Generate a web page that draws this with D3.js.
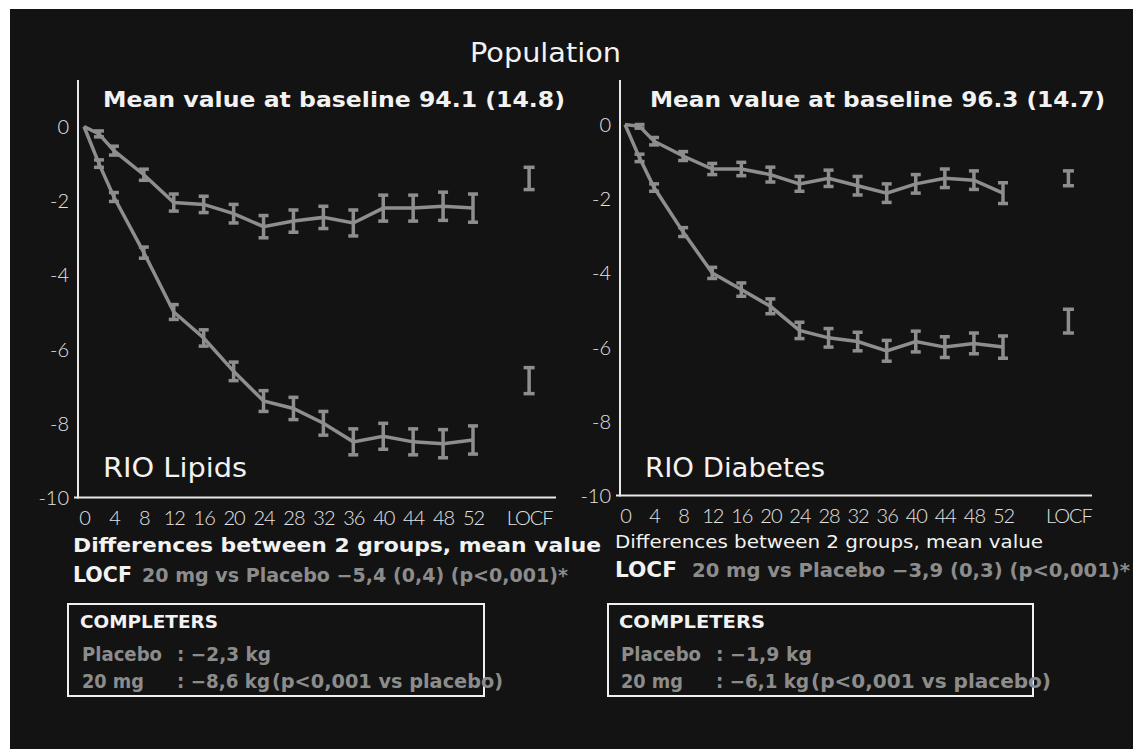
<!DOCTYPE html>
<head>
	<meta charset="utf-8">
	<title>Population - weight change</title>
	<script src="https://d3js.org/d3.v7.min.js"></script>
	<style>
		body { margin: 0; background: #fff; }
		svg { display: block; }
		.tick text { fill: #e4e4e4; font-family: Lato, "DejaVu Sans", sans-serif; font-weight: 300; }
		.spine { stroke: #e8e8e8; stroke-width: 2px; }
		.series { fill: none; stroke: #8e8e8e; stroke-width: 3.5px; }
		.err { stroke: #8e8e8e; stroke-width: 3.5px; }
		.white { fill: #f2f2f2; font-family: "DejaVu Sans", Verdana, sans-serif; }
		.grey { fill: #8c8c8c; font-family: "DejaVu Sans", Verdana, sans-serif; font-weight: bold; }
	</style>
</head>
<body>
<div id="viz"></div>
<script>
// weeks of follow-up, the LOCF column is added by the axis
var weeks = [0, 2, 4, 8, 12, 16, 20, 24, 28, 32, 36, 40, 44, 48, 52];
var weekTicks = [0, 4, 8, 12, 16, 20, 24, 28, 32, 36, 40, 44, 48, 52];
var yTicks = [0, -2, -4, -6, -8, -10];

// RIO Lipids, change in weight (kg)
var lipidsPlacebo = [0, -0.2, -0.65, -1.3, -2.05, -2.1, -2.35, -2.7, -2.55, -2.45, -2.6, -2.2, -2.2, -2.15, -2.2];
var lipidsPlaceboErr = [0, 0.08, 0.12, 0.15, 0.23, 0.22, 0.25, 0.3, 0.3, 0.3, 0.35, 0.35, 0.35, 0.38, 0.38];
var lipids20mg = [0, -1.0, -1.9, -3.4, -5.0, -5.7, -6.6, -7.4, -7.6, -8.0, -8.5, -8.35, -8.5, -8.55, -8.45];
var lipids20mgErr = [0, 0.1, 0.12, 0.15, 0.2, 0.22, 0.25, 0.28, 0.3, 0.32, 0.35, 0.35, 0.35, 0.38, 0.38];
var lipidsLocf = [-1.4, -6.85];
var lipidsLocfErr = [0.3, 0.35];

// RIO Diabetes
var diabetesPlacebo = [0, -0.05, -0.45, -0.85, -1.2, -1.2, -1.35, -1.6, -1.45, -1.65, -1.85, -1.6, -1.45, -1.5, -1.85];
var diabetesPlaceboErr = [0, 0.05, 0.1, 0.12, 0.15, 0.18, 0.2, 0.2, 0.22, 0.25, 0.25, 0.25, 0.25, 0.25, 0.28];
var diabetes20mg = [0, -0.9, -1.7, -2.9, -4.0, -4.45, -4.9, -5.55, -5.75, -5.85, -6.1, -5.85, -6.0, -5.9, -6.0];
var diabetes20mgErr = [0, 0.1, 0.1, 0.12, 0.15, 0.18, 0.2, 0.22, 0.25, 0.25, 0.28, 0.28, 0.28, 0.28, 0.3];
var diabetesLocf = [-1.45, -5.3];
var diabetesLocfErr = [0.2, 0.32];

var panels = [
	{ name: "RIO Lipids", baseline: "Mean value at baseline 94.1 (14.8)",
	  placebo: lipidsPlacebo, placeboErr: lipidsPlaceboErr, drug: lipids20mg, drugErr: lipids20mgErr,
	  locf: lipidsLocf, locfErr: lipidsLocfErr,
	  axisX: 78, x0: 84, x52: 473, locfAt: 59.5, xEnd: 556, y0: 126.5, y10: 497.5,
	  baseX: 103, baseW: 462, nameW: 144 },
	{ name: "RIO Diabetes", baseline: "Mean value at baseline 96.3 (14.7)",
	  placebo: diabetesPlacebo, placeboErr: diabetesPlaceboErr, drug: diabetes20mg, drugErr: diabetes20mgErr,
	  locf: diabetesLocf, locfErr: diabetesLocfErr,
	  axisX: 620, x0: 625, x52: 1003, locfAt: 61, xEnd: 1092, y0: 124.5, y10: 495.5,
	  baseX: 650, baseW: 455, nameW: 180 }
];

var W = 1133, H = 749;
var svg = d3.select("#viz").append("svg").attr("width", W).attr("height", H);

// dark slide, white margin top-left
svg.append("rect").attr("x", 10).attr("y", 9).attr("width", W - 10).attr("height", H - 9).attr("fill", "#131313");

svg.append("text").attr("class", "white").attr("x", 470).attr("y", 62)
	.attr("font-size", 27).attr("textLength", 151).attr("lengthAdjust", "spacingAndGlyphs")
	.text("Population");

panels.forEach(function(p) {
	var x = d3.scaleLinear().domain([0, 52]).range([p.x0, p.x52]);
	var y = d3.scaleLinear().domain([0, -10]).range([p.y0, p.y10]);
	var g = svg.append("g");

	// spines
	g.append("line").attr("class", "spine").attr("x1", p.axisX).attr("x2", p.axisX).attr("y1", 80).attr("y2", p.y10 + 1);
	g.append("line").attr("class", "spine").attr("x1", p.axisX - 4).attr("x2", p.xEnd).attr("y1", p.y10).attr("y2", p.y10);

	var yAxis = g.append("g").attr("transform", "translate(" + (p.axisX - 6) + ",0)")
		.call(d3.axisLeft(y).tickValues(yTicks).tickSize(0).tickFormat(function(d) { return String(d); }));
	yAxis.select(".domain").remove();
	yAxis.selectAll("text").attr("font-size", 20).attr("dy", "0.35em");

	var xAxis = g.append("g").attr("transform", "translate(0," + (p.y10 + 10) + ")")
		.call(d3.axisBottom(x).tickValues(weekTicks.concat([p.locfAt])).tickSize(0)
			.tickFormat(function(d) { return d === p.locfAt ? "LOCF" : d; }));
	xAxis.select(".domain").remove();
	xAxis.selectAll("text").attr("font-size", 20).attr("dy", "0.71em").attr("letter-spacing", -1);

	var line = d3.line().x(function(d) { return x(d[0]); }).y(function(d) { return y(d[1]); });

	[[p.placebo, p.placeboErr], [p.drug, p.drugErr]].forEach(function(s) {
		var pts = weeks.map(function(w, i) { return [w, s[0][i], s[1][i]]; });
		g.append("path").attr("class", "series").attr("d", line(pts));
		drawErr(g, pts.filter(function(d) { return d[2] > 0; }), x, y, 5);
	});

	var locfPts = p.locf.map(function(v, i) { return [p.locfAt, v, p.locfErr[i]]; });
	drawErr(g, locfPts, x, y, 5.5);

	g.append("text").attr("class", "white").attr("x", p.baseX).attr("y", 107)
		.attr("font-size", 22).attr("font-weight", "bold")
		.attr("textLength", p.baseW).attr("lengthAdjust", "spacingAndGlyphs").text(p.baseline);

	g.append("text").attr("class", "white").attr("x", p.axisX + 25).attr("y", 477)
		.attr("font-size", 27).attr("textLength", p.nameW).attr("lengthAdjust", "spacingAndGlyphs").text(p.name);
});

function drawErr(g, pts, x, y, cap) {
	var e = g.append("g").selectAll("g").data(pts).join("g");
	e.append("line").attr("class", "err")
		.attr("x1", function(d) { return x(d[0]); }).attr("x2", function(d) { return x(d[0]); })
		.attr("y1", function(d) { return y(d[1] + d[2]); }).attr("y2", function(d) { return y(d[1] - d[2]); });
	[1, -1].forEach(function(sgn) {
		e.append("line").attr("class", "err")
			.attr("x1", function(d) { return x(d[0]) - cap; }).attr("x2", function(d) { return x(d[0]) + cap; })
			.attr("y1", function(d) { return y(d[1] + sgn * d[2]); }).attr("y2", function(d) { return y(d[1] + sgn * d[2]); });
	});
}

// text under the charts
function txt(cls, x, y, size, w, s, bold) {
	var t = svg.append("text").attr("class", cls).attr("x", x).attr("y", y).attr("font-size", size).text(s);
	if (w) t.attr("textLength", w).attr("lengthAdjust", "spacingAndGlyphs");
	if (bold) t.attr("font-weight", "bold");
	return t;
}

txt("white", 73, 552, 20, 528, "Differences between 2 groups, mean value", true);
txt("white", 73, 582, 21, 59, "LOCF", true);
txt("grey", 142, 582, 19, 426, "20 mg vs Placebo \u22125,4 (0,4) (p<0,001)*");

txt("white", 615, 548, 18, 428, "Differences between 2 groups, mean value");
txt("white", 615, 577, 21, 62, "LOCF", true);
txt("grey", 692, 577, 19, 438, "20 mg vs Placebo \u22123,9 (0,3) (p<0,001)*");

[[68, 484, "\u22122,3 kg", "\u22128,6 kg", 82, 218, 271, 503],
 [608, 1033, "\u22121,9 kg", "\u22126,1 kg", 621, 765, 812, 1051]].forEach(function(b) {
	svg.append("rect").attr("x", b[0]).attr("y", 604).attr("width", b[1] - b[0]).attr("height", 92)
		.attr("fill", "none").attr("stroke", "#f0f0f0").attr("stroke-width", 2);
	txt("white", b[4] - 2, 628, 18, b[5] - b[4] + 2, "COMPLETERS", true);
	txt("grey", b[4], 661, 19, 80, "Placebo");
	txt("grey", b[4] + 95, 661, 19, b[6] - b[4] - 95, ": " + b[2]);
	txt("grey", b[4], 688, 19, 62, "20 mg");
	txt("grey", b[4] + 95, 688, 19, 93, ": " + b[3]);
	txt("grey", b[4] + 190, 688, 19, b[7] - b[4] - 190, "(p<0,001 vs placebo)");
});
</script>
</body>
</html>
